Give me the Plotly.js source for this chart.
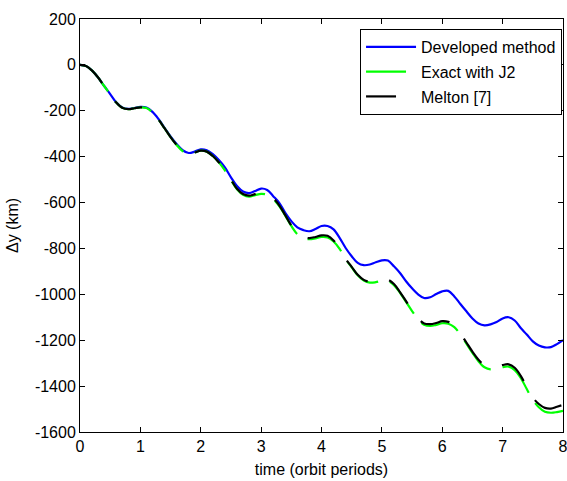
<!DOCTYPE html>
<html>
<head>
<meta charset="utf-8">
<script src="https://cdn.plot.ly/plotly-3.0.1.min.js"></script>
<style>html,body{margin:0;padding:0;background:#fff;}#chart{width:567px;height:481px;}</style>
</head>
<body>
<div id="chart"></div>
<script>
// time in orbit periods
const time = [0,0.1,0.2,0.3,0.4,0.5,0.6,0.7,0.8,0.9,1.0,1.1,1.2,1.3,1.4,1.5,1.6,1.7,1.8,1.9,2.0,2.1,2.2,2.3,2.4,2.5,2.6,2.7,2.8,2.9,3.0,3.1,3.2,3.3,3.4,3.5,3.6,3.7,3.8,3.9,4.0,4.1,4.2,4.3,4.4,4.5,4.6,4.7,4.8,4.9,5.0,5.1,5.2,5.3,5.4,5.5,5.6,5.7,5.8,5.9,6.0,6.1,6.2,6.3,6.4,6.5,6.6,6.7,6.8,6.9,7.0,7.1,7.2,7.3,7.4,7.5,7.6,7.7,7.8,7.9,8.0];

const developed = [0,-5,-25,-55,-92,-127,-163,-186,-192,-188,-183,-186,-205,-236,-274,-312,-345,-372,-384,-378,-368,-372,-389,-415,-447,-490,-528,-552,-559,-550,-539,-545,-572,-601,-645,-681,-708,-720,-725,-715,-702,-702,-717,-754,-798,-834,-863,-873,-870,-860,-852,-853,-878,-907,-943,-974,-1000,-1016,-1013,-999,-987,-985,-1009,-1042,-1074,-1105,-1127,-1135,-1131,-1121,-1105,-1100,-1114,-1147,-1175,-1205,-1223,-1231,-1230,-1217,-1200];

const exactJ2 = [0,-5,-25,-55,-92,-128,-164,-187,-193,-189,-185,-188,-207,-238,-276,-315,-349,-376,-388,-382,-374,-378,-397,-425,-460,-502,-542,-566,-574,-568,-562,-566,-585,-615,-657,-702,-738,-756,-760,-756,-750,-752,-770,-802,-847,-882,-917,-940,-949,-947,-941,-942,-960,-993,-1033,-1073,-1108,-1133,-1138,-1133,-1126,-1128,-1143,-1175,-1215,-1255,-1292,-1318,-1327,-1323,-1317,-1315,-1330,-1364,-1413,-1460,-1492,-1512,-1516,-1513,-1508];

const melton = [0,-5,-25,-55,-92,-128,-164,-187,-193,-189,-185,-188,-207,-238,-276,-315,-349,-376,-388,-382,-374,-378,-397,-425,-458,-500,-540,-563,-570,-563,-556,-560,-580,-612,-655,-700,-735,-752,-755,-750,-743,-745,-765,-800,-845,-880,-915,-937,-945,-942,-935,-936,-955,-990,-1030,-1070,-1105,-1127,-1130,-1125,-1117,-1120,-1135,-1170,-1210,-1250,-1285,-1310,-1318,-1315,-1308,-1305,-1320,-1355,-1405,-1450,-1478,-1495,-1498,-1490,-1482];

const seriesNames = ['Developed method','Exact with J2','Melton [7]'];
const xTicks = [0,1,2,3,4,5,6,7,8];
const yTicks = [200,0,-200,-400,-600,-800,-1000,-1200,-1400,-1600];

const font = {family:'"Liberation Sans", Arial, sans-serif', size:16, color:'#000'};

const traces = [
  {x: time, y: developed, name: seriesNames[0], mode:'lines', legendgroup:'a',
   line:{color:'#0000ff', width:2.2, shape:'spline', smoothing:1}},
  {x: time, y: exactJ2, name: seriesNames[1], mode:'lines', legendgroup:'b',
   line:{color:'#00ff00', width:2.2, shape:'spline', smoothing:1, dash:'40px,12px'}},
  {x: time, y: melton, name: seriesNames[2], mode:'lines', legendgroup:'c',
   line:{color:'#000000', width:2.2, shape:'spline', smoothing:1, dash:'30px,22px'}}
];

const layout = {
  width:567, height:481,
  margin:{l:80, r:4, t:19, b:49},
  paper_bgcolor:'#fff', plot_bgcolor:'#fff',
  font: font,
  showlegend:true,
  legend:{x:0.998, xanchor:'right', y:0.976, yanchor:'top',
    bordercolor:'#000', borderwidth:1, bgcolor:'#fff',
    font:font, traceorder:'grouped', tracegroupgap:1, itemwidth:50,
    entrywidth:210, entrywidthmode:'pixels'},
  xaxis:{range:[0,8], tickvals:xTicks, ticktext:xTicks.map(String),
    ticks:'inside', ticklen:5, tickcolor:'#000', tickwidth:1,
    showline:true, linecolor:'#000', linewidth:1, mirror:'allticks',
    showgrid:false, zeroline:false, tickfont:font, ticklabeloverflow:'allow',
    title:{text:'time (orbit periods)', font:font, standoff:9}},
  yaxis:{range:[-1600,200], tickvals:yTicks, ticktext:yTicks.map(String),
    ticks:'inside', ticklen:5, tickcolor:'#000', tickwidth:1,
    showline:true, linecolor:'#000', linewidth:1, mirror:'allticks',
    showgrid:false, zeroline:false, tickfont:font,
    title:{text:'Δy (km)', font:font, standoff:12}}
};

Plotly.newPlot('chart', traces, layout, {displayModeBar:false, staticPlot:true});
</script>
</body>
</html>
